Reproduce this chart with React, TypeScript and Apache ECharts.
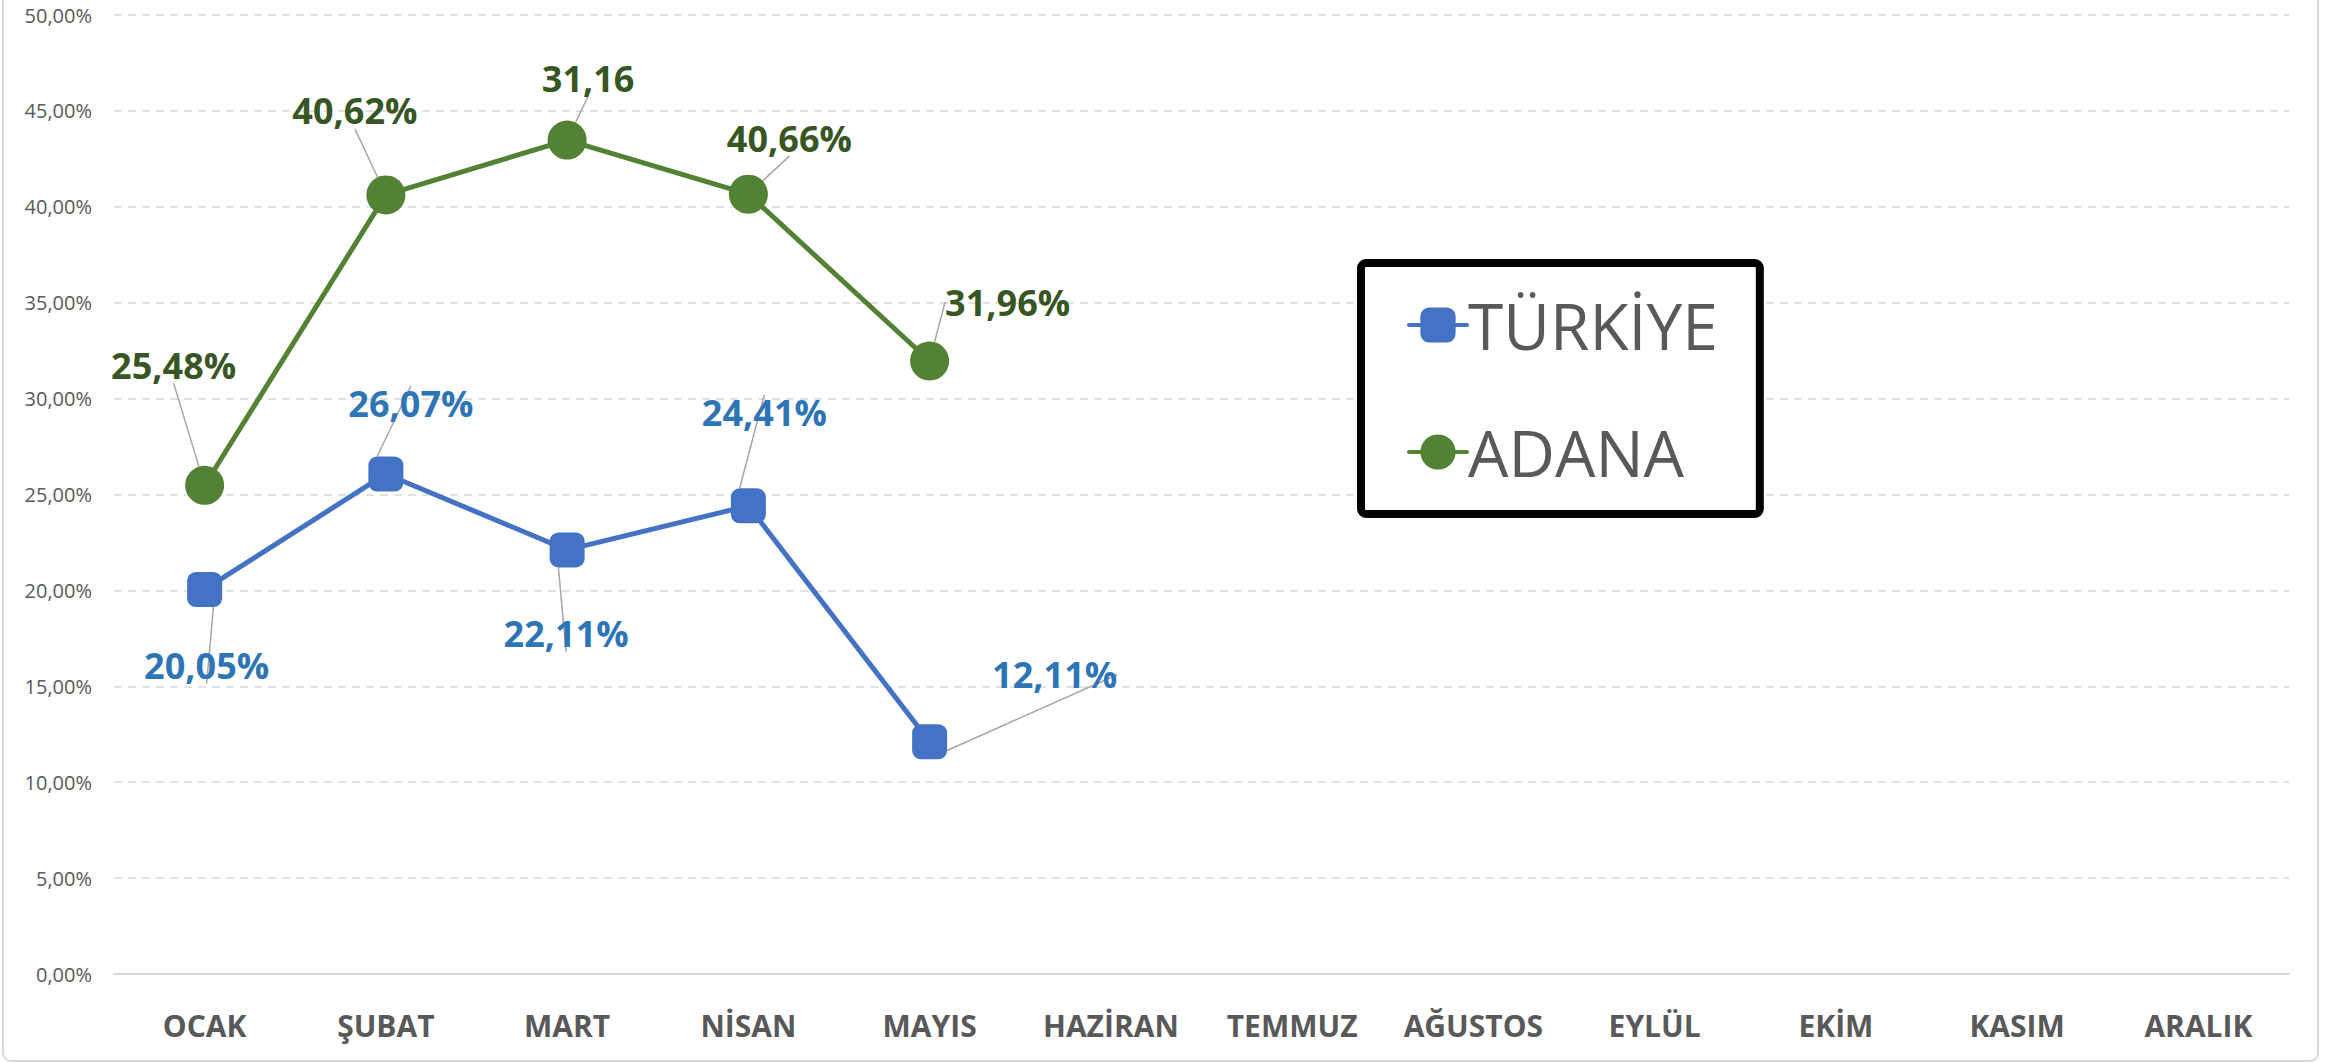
import React, { useEffect, useRef } from "react";
import * as echarts from "echarts";

const months = ["OCAK", "ŞUBAT", "MART", "NİSAN", "MAYIS", "HAZİRAN", "TEMMUZ", "AĞUSTOS", "EYLÜL", "EKİM", "KASIM", "ARALIK"];
const turkiyeValues = [20.05, 26.07, 22.11, 24.41, 12.11];
const adanaValues = [25.48, 40.62, 43.48, 40.66, 31.96];
const turkiyeLabels = ["20,05%", "26,07%", "22,11%", "24,41%", "12,11%"];
const adanaLabels = ["25,48%", "40,62%", "31,16", "40,66%", "31,96%"];
const yTicks = { min: 0, max: 50, interval: 5 };

// label offsets (layout only)
const turkiyeOffsets = [[2, 76], [25, -70], [-1, 84], [16, -93], [125, -67]];
const adanaOffsets = [[-31, -120], [-31, -84], [21, -62], [41, -56], [78, -59]];

const FONT = "'Open Sans', 'Noto Sans', sans-serif";

export default function App() {
  const ref = useRef<HTMLDivElement>(null);
  useEffect(() => {
    document.body.style.margin = "0";
    if (!ref.current) return;
    const chart = echarts.init(ref.current, undefined, { renderer: "svg" });
    chart.setOption({
      animation: false,
      backgroundColor: "#ffffff",
      textStyle: { fontFamily: FONT },
      grid: { left: 114, right: 47, top: 15, bottom: 89, containLabel: false },
      graphic: [
        {
          type: "rect",
          shape: { x: 3, y: -20, width: 2315, height: 1081, r: 8 },
          style: { fill: "none", stroke: "#D9D9D9", lineWidth: 2 },
          silent: true,
          z: -10,
        },
      ],
      legend: {
        orient: "vertical",
        left: 1361,
        top: 263,
        padding: [30, 42, 30, 46],
        itemGap: 63,
        itemWidth: 58,
        itemHeight: 44,
        borderColor: "#000000",
        borderWidth: 8,
        borderRadius: 5,
        backgroundColor: "#ffffff",
        lineStyle: { width: 4, cap: "round" },
        textStyle: { fontSize: 64, lineHeight: 64, color: "#595959", fontFamily: FONT, padding: [0, 0, 0, -4] },
        data: ["TÜRKİYE", "ADANA"],
      },
      xAxis: {
        type: "category",
        data: months,
        boundaryGap: true,
        axisLine: { show: true, lineStyle: { color: "#D9D9D9", width: 2 } },
        axisTick: { show: false },
        axisLabel: { color: "#595959", fontSize: 30, fontWeight: "bold", margin: 36, fontFamily: FONT, interval: 0 },
        splitLine: { show: false },
      },
      yAxis: {
        type: "value",
        min: yTicks.min,
        max: yTicks.max,
        interval: yTicks.interval,
        axisLine: { show: false },
        axisTick: { show: false },
        axisLabel: {
          color: "#595959",
          fontSize: 20,
          margin: 22,
          fontFamily: FONT,
          formatter: (v: number) => v.toFixed(2).replace(".", ",") + "%",
        },
        splitLine: { show: true, lineStyle: { color: "#D9D9D9", type: [8, 6], width: 1.5 } },
      },
      series: [
        {
          name: "TÜRKİYE",
          type: "line",
          data: turkiyeValues,
          symbol: "roundRect",
          symbolSize: 35,
          itemStyle: { color: "#4472C4" },
          lineStyle: { color: "#4472C4", width: 5 },
          z: 3,
          label: {
            show: true,
            position: "inside",
            color: "#2E75B6",
            fontSize: 36,
            fontWeight: "bold",
            fontFamily: FONT,
            formatter: (p: any) => turkiyeLabels[p.dataIndex],
          },
          labelLine: { show: true, lineStyle: { color: "#A6A6A6", width: 1.5 } },
          labelLayout: (p: any) => ({ dx: turkiyeOffsets[p.dataIndex][0], dy: turkiyeOffsets[p.dataIndex][1] }),
        },
        {
          name: "ADANA",
          type: "line",
          data: adanaValues,
          symbol: "circle",
          symbolSize: 39,
          itemStyle: { color: "#548235" },
          lineStyle: { color: "#548235", width: 5 },
          z: 3,
          label: {
            show: true,
            position: "inside",
            color: "#375623",
            fontSize: 36,
            fontWeight: "bold",
            fontFamily: FONT,
            formatter: (p: any) => adanaLabels[p.dataIndex],
          },
          labelLine: { show: true, lineStyle: { color: "#A6A6A6", width: 1.5 } },
          labelLayout: (p: any) => ({ dx: adanaOffsets[p.dataIndex][0], dy: adanaOffsets[p.dataIndex][1] }),
        },
      ],
    });
    return () => chart.dispose();
  }, []);
  return <div ref={ref} style={{ width: 2336, height: 1063 }} />;
}
